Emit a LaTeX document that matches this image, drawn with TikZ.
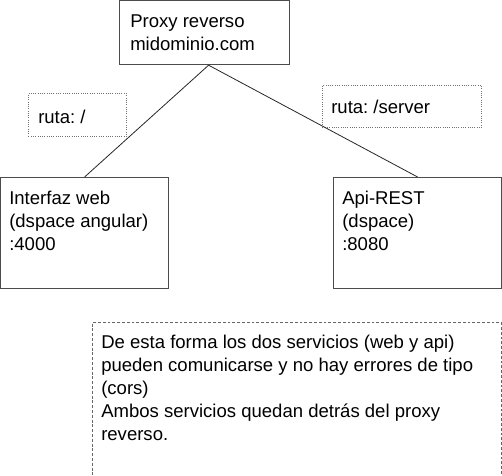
\documentclass[tikz,border=0pt]{standalone}
\usepackage{fontspec}
\setmainfont{Liberation Sans}
\frenchspacing
\begin{document}
\begin{tikzpicture}[x=0.75pt,y=-0.75pt,
	box node/.style={rectangle,draw=black!70,line width=0.9pt,anchor=north west,inner sep=0pt},
	route node/.style={rectangle,draw=black!55,densely dotted,line width=0.7pt,anchor=north west,inner sep=0pt},
	note node/.style={rectangle,draw=black!60,dash pattern=on 2.2pt off 1.4pt,line width=0.7pt,anchor=north west,inner sep=0pt},
	text node/.style={anchor=base west,inner sep=0pt,align=left,font=\fontsize{13.9}{17.25}\selectfont}
]

	\useasboundingbox (0,0) rectangle (502,475);

	% cajas
	\node[box node,minimum width=127.5pt,minimum height=48pt] (proxy) at (119,0) {};
	\node[box node,minimum width=126pt,minimum height=83.25pt] (web) at (0,177) {};
	\node[box node,minimum width=126pt,minimum height=83.25pt] (api) at (333,177) {};
	\node[route node,minimum width=73.5pt,minimum height=32.25pt] (route web) at (28,93) {};
	\node[route node,minimum width=119.25pt,minimum height=31.5pt] (route api) at (322,85) {};
	\node[note node,minimum width=306.75pt,minimum height=120pt] (note) at (92,322) {};

	% textos (base = ultima linea)
	\node[text node] (proxy text) at ([shift={(11,50)}]proxy.north west) {Proxy reverso\\midominio.com};
	\node[text node] (web text) at ([shift={(9,73)}]web.north west) {Interfaz web\\(dspace angular)\\:4000};
	\node[text node] (api text) at ([shift={(9,73)}]api.north west) {Api-REST\\(dspace)\\:8080};
	\node[text node] (route web text) at ([shift={(10,30)}]route web.north west) {ruta: /};
	\node[text node] (route api text) at ([shift={(9,28)}]route api.north west) {ruta: /server};
	\node[text node] (note text) at ([shift={(9,118)}]note.north west) {De esta forma los dos servicios (web y api)\\pueden comunicarse y no hay errores de tipo\\(cors)\\Ambos servicios quedan detrás del proxy\\reverso.};

	% conexiones
	\draw[black!85,line width=0.6pt] ([xshift=3pt]proxy.south) -- (web.north);
	\draw[black!85,line width=0.6pt] ([xshift=3pt]proxy.south) -- (api.north);
\end{tikzpicture}
\end{document}
